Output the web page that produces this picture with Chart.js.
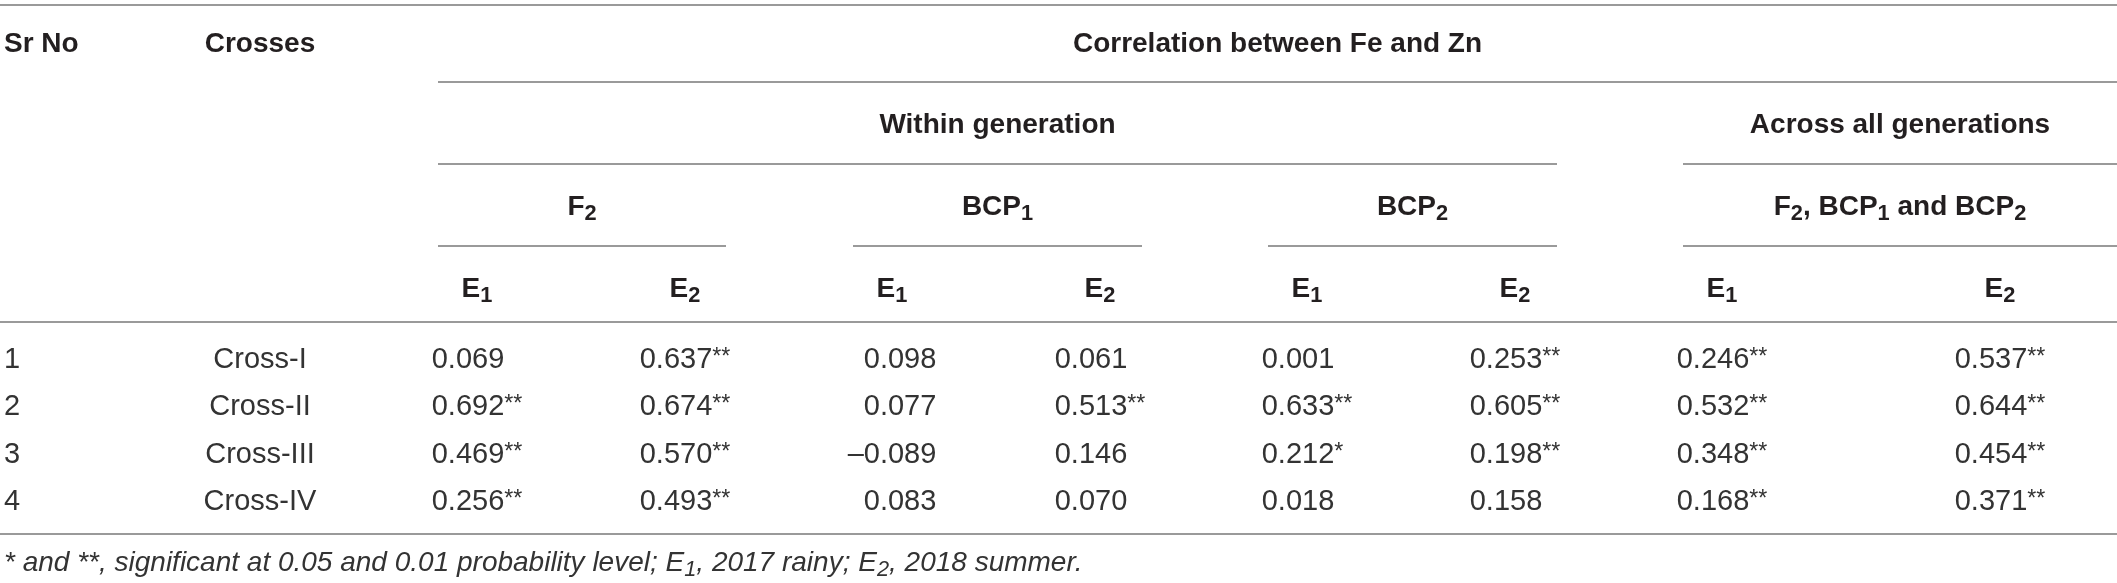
<!DOCTYPE html>
<html>
<head>
<meta charset="utf-8">
<script src="https://cdn.jsdelivr.net/npm/chart.js@4.4.1/dist/chart.umd.min.js"></script>
<style>
  html, body { margin: 0; padding: 0; background: #ffffff; }
  #wrap { width: 2117px; height: 583px; position: relative; }
</style>
</head>
<body>
<div id="wrap"><canvas id="c"></canvas></div>
<script>
// ------------------------- DATA -------------------------
const srNo    = ['1', '2', '3', '4'];
const crosses = ['Cross-I', 'Cross-II', 'Cross-III', 'Cross-IV'];

// Correlation between Fe and Zn (within generation)
const f2E1      = [0.069, 0.692, 0.469, 0.256];
const f2E1Sig   = ['', '**', '**', '**'];
const f2E2      = [0.637, 0.674, 0.570, 0.493];
const f2E2Sig   = ['**', '**', '**', '**'];
const bcp1E1    = [0.098, 0.077, -0.089, 0.083];
const bcp1E1Sig = ['', '', '', ''];
const bcp1E2    = [0.061, 0.513, 0.146, 0.070];
const bcp1E2Sig = ['', '**', '', ''];
const bcp2E1    = [0.001, 0.633, 0.212, 0.018];
const bcp2E1Sig = ['', '**', '*', ''];
const bcp2E2    = [0.253, 0.605, 0.198, 0.158];
const bcp2E2Sig = ['**', '**', '**', ''];
// Across all generations (F2, BCP1 and BCP2)
const allE1     = [0.246, 0.532, 0.348, 0.168];
const allE1Sig  = ['**', '**', '**', '**'];
const allE2     = [0.537, 0.644, 0.454, 0.371];
const allE2Sig  = ['**', '**', '**', '**'];

// Header labels ("_x" = subscript character)
const colHeaders  = ['Sr No', 'Crosses'];
const titleLabel  = 'Correlation between Fe and Zn';
const groupLabels = ['Within generation', 'Across all generations'];
const genLabels   = ['F_2', 'BCP_1', 'BCP_2', 'F_2, BCP_1 and BCP_2'];
const envLabels   = ['E_1', 'E_2'];
const footnote    = '* and **, significant at 0.05 and 0.01 probability level; E_1, 2017 rainy; E_2, 2018 summer.';

// ------------------------- LAYOUT (scale units) -------------------------
const W = 2117, H = 583;
const LAYOUT = {
  srX: 4,
  crossX: 260,
  valueCols: [477, 685, 892, 1100, 1307, 1515, 1722, 2000],
  genSpans: [[438, 726], [853, 1142], [1268, 1557], [1683, 2117]],
  groupSpans: [[438, 1557], [1683, 2117]],
  titleSpan: [438, 2117],
  base: { title: 52, group: 133, gen: 215, env: 297, foot: 571 },
  dataBase: [368, 415, 463, 510],
  rules: [
    { y: 5,   spans: [[0, 2117]] },
    { y: 82,  spans: [[438, 2117]] },
    { y: 164, spans: [[438, 1557], [1683, 2117]] },
    { y: 246, spans: [[438, 726], [853, 1142], [1268, 1557], [1683, 2117]] },
    { y: 322, spans: [[0, 2117]] },
    { y: 534, spans: [[0, 2117]] }
  ]
};

const FAMILY = "'Liberation Sans', Arial, Helvetica, sans-serif";
const HEAD_FONT = { size: 28, weight: 'bold', style: 'normal', color: '#231f20' };
const BODY_FONT = { size: 29, weight: 'normal', style: 'normal', color: '#333333' };
const FOOT_FONT = { size: 28, weight: 'normal', style: 'italic', color: '#333333' };
const RULE_COLOR = '#9a9a9a';

// ------------------------- BUILD DATASETS -------------------------
const mid = s => (s[0] + s[1]) / 2;
const datasets = [];

// horizontal rules
LAYOUT.rules.forEach(r => r.spans.forEach(s => {
  datasets.push({
    data: [{ x: s[0], y: r.y }, { x: s[1], y: r.y }],
    showLine: true, borderColor: RULE_COLOR, borderWidth: 2,
    pointRadius: 0, pointHoverRadius: 0, clip: false
  });
}));

function textSet(points, texts, font, align) {
  return {
    data: points, showLine: false, pointRadius: 0, pointHoverRadius: 0, clip: false,
    cell: { texts, font, align }
  };
}

// header texts
datasets.push(textSet([{ x: LAYOUT.srX, y: LAYOUT.base.title }], [colHeaders[0]], HEAD_FONT, 'left'));
datasets.push(textSet([{ x: LAYOUT.crossX, y: LAYOUT.base.title }], [colHeaders[1]], HEAD_FONT, 'center'));
datasets.push(textSet([{ x: mid(LAYOUT.titleSpan), y: LAYOUT.base.title }], [titleLabel], HEAD_FONT, 'center'));
datasets.push(textSet(LAYOUT.groupSpans.map(s => ({ x: mid(s), y: LAYOUT.base.group })), groupLabels, HEAD_FONT, 'center'));
datasets.push(textSet(LAYOUT.genSpans.map(s => ({ x: mid(s), y: LAYOUT.base.gen })), genLabels, HEAD_FONT, 'center'));
datasets.push(textSet(LAYOUT.valueCols.map(x => ({ x, y: LAYOUT.base.env })),
  LAYOUT.valueCols.map((_, i) => envLabels[i % 2]), HEAD_FONT, 'center'));

// body: Sr No & Crosses
datasets.push(textSet(srNo.map((_, i) => ({ x: LAYOUT.srX, y: LAYOUT.dataBase[i] })), srNo, BODY_FONT, 'left'));
datasets.push(textSet(crosses.map((_, i) => ({ x: LAYOUT.crossX, y: LAYOUT.dataBase[i] })), crosses, BODY_FONT, 'center'));

// body: value columns (decimal aligned)
const valueCols = [
  [f2E1, f2E1Sig], [f2E2, f2E2Sig], [bcp1E1, bcp1E1Sig], [bcp1E2, bcp1E2Sig],
  [bcp2E1, bcp2E1Sig], [bcp2E2, bcp2E2Sig], [allE1, allE1Sig], [allE2, allE2Sig]
];
valueCols.forEach(([vals, sig], c) => {
  datasets.push({
    data: vals.map((v, i) => ({ x: LAYOUT.valueCols[c], y: LAYOUT.dataBase[i] })),
    showLine: false, pointRadius: 0, pointHoverRadius: 0, clip: false,
    cell: {
      font: BODY_FONT, align: 'decimal',
      values: vals.map((v, i) => ({
        minus: v < 0 ? '\u2013' : '',
        rest: Math.abs(v).toFixed(3) + (sig[i] ? '^' + sig[i] : '')
      }))
    }
  });
});

// footnote
datasets.push(textSet([{ x: LAYOUT.srX, y: LAYOUT.base.foot }], [footnote], FOOT_FONT, 'left'));

// ------------------------- RICH TEXT PLUGIN -------------------------
function tokenize(s) {
  const out = []; let buf = ''; let i = 0;
  while (i < s.length) {
    const ch = s[i];
    if (ch === '_') {
      if (buf) { out.push({ t: buf, m: 'n' }); buf = ''; }
      out.push({ t: s[i + 1], m: 'sub' }); i += 2; continue;
    }
    if (ch === '^') {
      if (buf) { out.push({ t: buf, m: 'n' }); buf = ''; }
      let j = i + 1, sup = '';
      while (j < s.length && s[j] === '*') { sup += '*'; j++; }
      out.push({ t: sup, m: 'sup' }); i = j; continue;
    }
    buf += ch; i++;
  }
  if (buf) out.push({ t: buf, m: 'n' });
  return out;
}
function fontFor(f, m) {
  const size = m === 'n' ? f.size : (m === 'sub' ? f.size * 0.78 : f.size * 0.8);
  return `${f.style} ${f.weight} ${size.toFixed(1)}px ${FAMILY}`;
}
function dyFor(f, m) {
  if (m === 'sub') return f.size * 0.19;
  if (m === 'sup') return -f.size * 0.14;
  return 0;
}
function measureTokens(ctx, toks, f) {
  let w = 0;
  toks.forEach(tk => { ctx.font = fontFor(f, tk.m); w += ctx.measureText(tk.t).width; });
  return w;
}
function drawTokens(ctx, toks, f, x, y) {
  let cx = x;
  toks.forEach(tk => {
    ctx.font = fontFor(f, tk.m);
    ctx.fillText(tk.t, cx, y + dyFor(f, tk.m));
    cx += ctx.measureText(tk.t).width;
  });
}

const cellPlugin = {
  id: 'cellText',
  afterDatasetsDraw(chart) {
    const ctx = chart.ctx;
    ctx.save();
    ctx.textBaseline = 'alphabetic';
    ctx.textAlign = 'left';
    chart.data.datasets.forEach((ds, di) => {
      if (!ds.cell) return;
      const meta = chart.getDatasetMeta(di);
      const f = ds.cell.font;
      ctx.fillStyle = f.color;
      if (ds.cell.align === 'decimal') {
        const items = ds.cell.values.map(v => ({ minus: tokenize(v.minus), rest: tokenize(v.rest) }));
        let maxM = 0, maxR = 0;
        items.forEach(it => {
          it.mw = measureTokens(ctx, it.minus, f);
          it.rw = measureTokens(ctx, it.rest, f);
          maxM = Math.max(maxM, it.mw); maxR = Math.max(maxR, it.rw);
        });
        meta.data.forEach((el, j) => {
          const it = items[j];
          const restLeft = el.x - (maxM + maxR) / 2 + maxM;
          drawTokens(ctx, it.minus, f, restLeft - it.mw, el.y);
          drawTokens(ctx, it.rest, f, restLeft, el.y);
        });
      } else {
        meta.data.forEach((el, j) => {
          const toks = tokenize(ds.cell.texts[j]);
          const w = measureTokens(ctx, toks, f);
          const x = ds.cell.align === 'center' ? el.x - w / 2 : el.x;
          drawTokens(ctx, toks, f, x, el.y);
        });
      }
    });
    ctx.restore();
  }
};

// ------------------------- CHART -------------------------
new Chart(document.getElementById('c'), {
  type: 'scatter',
  data: { datasets },
  options: {
    responsive: true,
    maintainAspectRatio: false,
    animation: false,
    events: [],
    layout: { padding: 0 },
    plugins: { legend: { display: false }, tooltip: { enabled: false } },
    scales: {
      x: { type: 'linear', min: 0, max: W, display: false },
      y: { type: 'linear', min: 0, max: H, reverse: true, display: false }
    }
  },
  plugins: [cellPlugin]
});
</script>
</body>
</html>
